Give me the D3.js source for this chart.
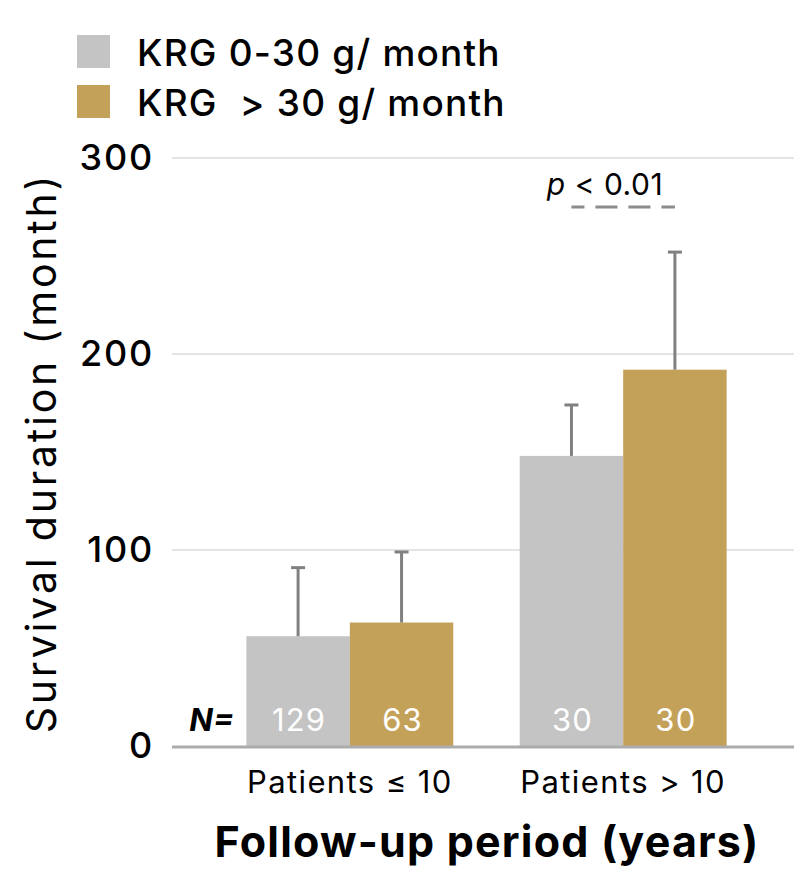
<!DOCTYPE html>
<html>
<head>
<meta charset="utf-8">
<script src="https://cdn.jsdelivr.net/npm/d3@7"></script>
<style>
  html, body { margin: 0; padding: 0; background: #fff; }
  svg { display: block; }
  text { font-family: Inter, "Noto Sans", sans-serif; }
</style>
</head>
<body>
<svg id="chart" width="794" height="873"></svg>
<script>
// Follow-up groups and KRG intake series
const groups = ["Patients \u2264 10", "Patients > 10"];
const seriesNames = ["KRG 0-30 g/ month", "KRG  > 30 g/ month"];
const seriesColors = ["#c4c4c4", "#c4a159"];
const lowIntakeMean = [56, 148];
const lowIntakeSD = [35, 26];
const highIntakeMean = [63, 192];
const highIntakeSD = [36, 60];
const lowIntakeN = [129, 30];
const highIntakeN = [63, 30];
const yTicks = [0, 100, 200, 300];

const rows = groups.map((g, i) => ({
  group: g,
  bars: [
    { key: 0, mean: lowIntakeMean[i], sd: lowIntakeSD[i], n: lowIntakeN[i] },
    { key: 1, mean: highIntakeMean[i], sd: highIntakeSD[i], n: highIntakeN[i] }
  ]
}));

const W = 794, H = 873;
const svg = d3.select("#chart");
const left = 172, baseY = 746, topY = 158;

const y = d3.scaleLinear().domain([0, 300]).range([baseY, topY]);
const x0 = d3.scaleBand().domain(groups).range([left, 801])
  .paddingInner(0.243).paddingOuter(0.272);
const x1 = d3.scaleBand().domain([0, 1]).range([0, x0.bandwidth()]);

// horizontal gridlines
svg.append("g")
  .selectAll("line")
  .data(yTicks.filter(d => d > 0))
  .join("line")
  .attr("x1", left).attr("x2", W)
  .attr("y1", d => y(d)).attr("y2", d => y(d))
  .attr("stroke", "#e4e4e4").attr("stroke-width", 2);

// y axis labels
const yAxis = d3.axisLeft(y).tickValues(yTicks).tickSize(0).tickPadding(18);
const yg = svg.append("g").attr("transform", `translate(${left},0)`).call(yAxis);
yg.select(".domain").remove();
yg.selectAll("text")
  .attr("font-size", 36)
  .attr("font-weight", 500)
  .attr("letter-spacing", 1.8)
  .attr("font-family", "Inter, sans-serif")
  .attr("fill", "#000");

// bars
const gGroup = svg.append("g")
  .selectAll("g")
  .data(rows)
  .join("g")
  .attr("transform", d => `translate(${x0(d.group)},0)`);

gGroup.selectAll("rect")
  .data(d => d.bars)
  .join("rect")
  .attr("x", d => x1(d.key))
  .attr("width", x1.bandwidth())
  .attr("y", d => y(d.mean))
  .attr("height", d => y(0) - y(d.mean))
  .attr("fill", d => seriesColors[d.key]);

// error bars (upper only)
const eb = gGroup.selectAll("g.err")
  .data(d => d.bars)
  .join("g")
  .attr("class", "err")
  .attr("transform", d => `translate(${x1(d.key) + x1.bandwidth() / 2},0)`);
eb.append("line")
  .attr("x1", 0).attr("x2", 0)
  .attr("y1", d => y(d.mean)).attr("y2", d => y(d.mean + d.sd))
  .attr("stroke", "#808080").attr("stroke-width", 3);
eb.append("line")
  .attr("x1", -7).attr("x2", 7)
  .attr("y1", d => y(d.mean + d.sd)).attr("y2", d => y(d.mean + d.sd))
  .attr("stroke", "#808080").attr("stroke-width", 3);

// sample size labels inside bars
gGroup.selectAll("text.n")
  .data(d => d.bars)
  .join("text")
  .attr("class", "n")
  .attr("x", d => x1(d.key) + x1.bandwidth() / 2 + 1)
  .attr("y", 731)
  .attr("text-anchor", "middle")
  .attr("font-size", 31)
  .attr("letter-spacing", 1.2)
  .attr("fill", "#fff")
  .text(d => d.n);

svg.append("text")
  .attr("x", 234).attr("y", 731)
  .attr("text-anchor", "end")
  .attr("font-size", 31)
  .attr("font-weight", 700)
  .attr("font-style", "italic")
  .text("N=");

// x axis baseline
svg.append("line")
  .attr("x1", left).attr("x2", W)
  .attr("y1", baseY + 1).attr("y2", baseY + 1)
  .attr("stroke", "#ababab").attr("stroke-width", 3);

// group labels
const xAxis = d3.axisBottom(x0).tickSize(0).tickPadding(25);
const xg = svg.append("g").attr("transform", `translate(0,${baseY})`).call(xAxis);
xg.select(".domain").remove();
xg.selectAll("text")
  .attr("font-size", 31)
  .attr("letter-spacing", 1.4)
  .attr("font-family", "Inter, sans-serif")
  .attr("fill", "#000");

// axis titles
svg.append("text")
  .attr("x", 487).attr("y", 857)
  .attr("text-anchor", "middle")
  .attr("font-size", 43)
  .attr("letter-spacing", 1.2)
  .attr("font-weight", 700)
  .text("Follow-up period (years)");

svg.append("text")
  .attr("transform", `translate(56,453) rotate(-90)`)
  .attr("text-anchor", "middle")
  .attr("font-size", 41)
  .attr("letter-spacing", 2.8)
  .text("Survival duration (month)");

// significance bracket between the two bars of the second group
const g2 = groups[1];
const cx0 = x0(g2) + x1(0) + x1.bandwidth() / 2;
const cx1 = x0(g2) + x1(1) + x1.bandwidth() / 2;
svg.append("line")
  .attr("x1", cx0).attr("x2", cx1)
  .attr("y1", 207).attr("y2", 207)
  .attr("stroke", "#8c8c8c").attr("stroke-width", 3)
  .attr("stroke-dasharray", "22,11")
  .attr("stroke-dashoffset", 9);
const pt = svg.append("text")
  .attr("x", 605).attr("y", 195)
  .attr("text-anchor", "middle")
  .attr("font-size", 30)
  .attr("letter-spacing", 0.5)
  .attr("font-family", "'Open Sans', sans-serif");
pt.append("tspan").attr("font-style", "italic").text("p");
pt.append("tspan").text(" < 0.01");

// legend
const lg = svg.append("g")
  .selectAll("g")
  .data(seriesNames)
  .join("g")
  .attr("transform", (d, i) => `translate(77,${35 + i * 50})`);
lg.append("rect").attr("width", 33).attr("height", 33)
  .attr("fill", (d, i) => seriesColors[i]);
lg.append("text").attr("x", 60).attr("y", 31)
  .attr("font-size", 37)
  .attr("font-weight", 500)
  .attr("letter-spacing", 1.2)
  .style("white-space", "pre")
  .text(d => d);
</script>
</body>
</html>
